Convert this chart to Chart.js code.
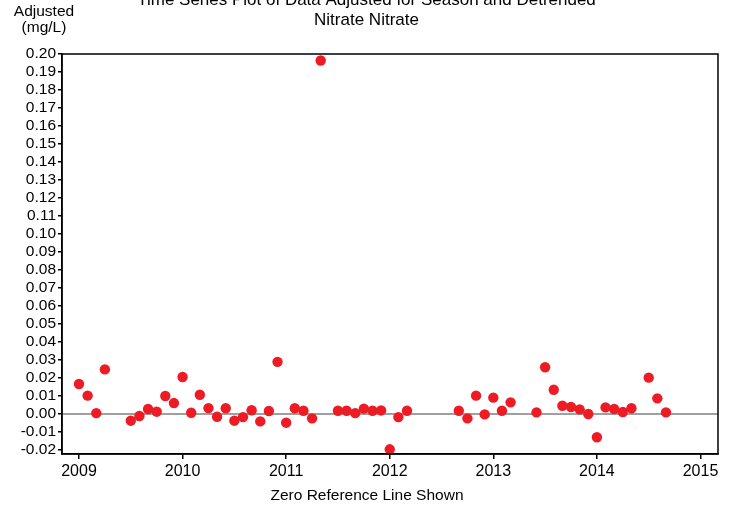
<!DOCTYPE html>
<html>
<head>
<meta charset="utf-8">
<script src="https://cdn.jsdelivr.net/npm/chart.js@4.4.0/dist/chart.umd.min.js"></script>
<style>
  html, body { margin: 0; padding: 0; background: #fff; }
  #wrap { width: 733px; height: 507px; }
</style>
</head>
<body>
<div id="wrap"><canvas id="nitrateChart" width="733" height="507"></canvas></div>
<script>
// sample month (YYYY-MM) and adjusted value in mg/L
const sampleMonths = [
    '2009-01', '2009-02', '2009-03', '2009-04', '2009-07', '2009-08', '2009-09', '2009-10', '2009-11', '2009-12',
    '2010-01', '2010-02', '2010-03', '2010-04', '2010-05', '2010-06', '2010-07', '2010-08', '2010-09', '2010-10', '2010-11', '2010-12',
    '2011-01', '2011-02', '2011-03', '2011-04', '2011-05', '2011-07', '2011-08', '2011-09', '2011-10', '2011-11', '2011-12',
    '2012-01', '2012-02', '2012-03', '2012-09', '2012-10', '2012-11', '2012-12',
    '2013-01', '2013-02', '2013-03', '2013-06', '2013-07', '2013-08', '2013-09', '2013-10', '2013-11', '2013-12',
    '2014-01', '2014-02', '2014-03', '2014-04', '2014-05', '2014-07', '2014-08', '2014-09'
];
const adjustedValues = [
    0.0167, 0.0102, 0.0005, 0.0248, -0.0037, -0.0011, 0.0028, 0.0013, 0.0100, 0.0061,
    0.0206, 0.0007, 0.0107, 0.0033, -0.0015, 0.0032, -0.0037, -0.0017, 0.0021, -0.0041, 0.0017, 0.0290,
    -0.0048, 0.0032, 0.0018, -0.0024, 0.1964, 0.0018, 0.0018, 0.0005, 0.0030, 0.0018, 0.0020,
    -0.0196, -0.0017, 0.0018, 0.0018, -0.0024, 0.0102, -0.0002,
    0.0091, 0.0018, 0.0065, 0.0009, 0.0260, 0.0135, 0.0046, 0.0039, 0.0026, 0.0000,
    -0.0129, 0.0037, 0.0028, 0.0011, 0.0032, 0.0202, 0.0087, 0.0009
];
const xTickYears = [2009, 2010, 2011, 2012, 2013, 2014, 2015];
const yTickValues = [-0.02, -0.01, 0.00, 0.01, 0.02, 0.03, 0.04, 0.05, 0.06, 0.07, 0.08, 0.09,
    0.10, 0.11, 0.12, 0.13, 0.14, 0.15, 0.16, 0.17, 0.18, 0.19, 0.20];
const titleLines = ['Time Series Plot of Data Adjusted for Season and Detrended', 'Nitrate Nitrate'];
const yAxisLabel = ['Adjusted', '(mg/L)'];
const xAxisLabel = 'Zero Reference Line Shown';

const FONT = '"Liberation Sans", Arial, sans-serif';

function monthToYear(s) {
    const [y, m] = s.split('-').map(Number);
    return y + (m - 1) / 12;
}

const points = sampleMonths.map((m, i) => ({ x: monthToYear(m), y: adjustedValues[i] }));

const frameAndText = {
    id: 'frameAndText',
    beforeDatasetsDraw(chart) {
        const { ctx, chartArea, scales } = chart;
        const y0 = scales.y.getPixelForValue(0);
        ctx.save();
        ctx.strokeStyle = '#808080';
        ctx.lineWidth = 1.5;
        ctx.beginPath();
        ctx.moveTo(chartArea.left, y0);
        ctx.lineTo(chartArea.right, y0);
        ctx.stroke();
        ctx.restore();
    },
    afterDraw(chart) {
        const { ctx, chartArea } = chart;
        ctx.save();
        ctx.strokeStyle = '#000';
        ctx.lineWidth = 1.5;
        ctx.strokeRect(chartArea.left, chartArea.top, chartArea.right - chartArea.left, chartArea.bottom - chartArea.top);

        ctx.fillStyle = '#000';
        ctx.textAlign = 'center';
        ctx.textBaseline = 'alphabetic';
        ctx.font = '17px ' + FONT;
        ctx.fillText(titleLines[0], 366.5, 5);
        ctx.fillText(titleLines[1], 366.5, 25);

        ctx.font = '15.5px ' + FONT;
        ctx.fillText(yAxisLabel[0], 44, 16);
        ctx.fillText(yAxisLabel[1], 44, 32);

        ctx.fillText(xAxisLabel, 367, 500);
        ctx.restore();
    }
};

new Chart(document.getElementById('nitrateChart'), {
    type: 'scatter',
    data: {
        datasets: [{
            data: points,
            backgroundColor: '#ed1c24',
            borderWidth: 0,
            pointRadius: 5.2,
            pointHoverRadius: 5.2
        }]
    },
    options: {
        responsive: false,
        animation: false,
        devicePixelRatio: 1,
        layout: { padding: { top: 54, right: 15, bottom: 0, left: 0 } },
        plugins: {
            legend: { display: false },
            title: { display: false },
            tooltip: { enabled: false }
        },
        scales: {
            x: {
                type: 'linear',
                min: 2008.836,
                max: 2015.169,
                afterBuildTicks: s => { s.ticks = xTickYears.map(v => ({ value: v })); },
                afterFit: s => { s.height = 53; },
                ticks: {
                    color: '#000',
                    font: { family: FONT, size: 16 },
                    padding: 3,
                    maxRotation: 0,
                    autoSkip: false,
                    callback: v => String(v)
                },
                grid: { drawOnChartArea: false, drawTicks: true, tickLength: 5, color: '#000', lineWidth: 1.5 },
                border: { display: true, color: '#000', width: 1.5 }
            },
            y: {
                type: 'linear',
                min: -0.0222,
                max: 0.2,
                afterBuildTicks: s => { s.ticks = yTickValues.map(v => ({ value: v })); },
                afterFit: s => { s.width = 62; },
                ticks: {
                    color: '#000',
                    font: { family: FONT, size: 15.5 },
                    padding: 2,
                    autoSkip: false,
                    callback: v => v.toFixed(2)
                },
                grid: { drawOnChartArea: false, drawTicks: true, tickLength: 4, color: '#000', lineWidth: 1.5 },
                border: { display: true, color: '#000', width: 1.5 }
            }
        }
    },
    plugins: [frameAndText]
});
</script>
</body>
</html>
